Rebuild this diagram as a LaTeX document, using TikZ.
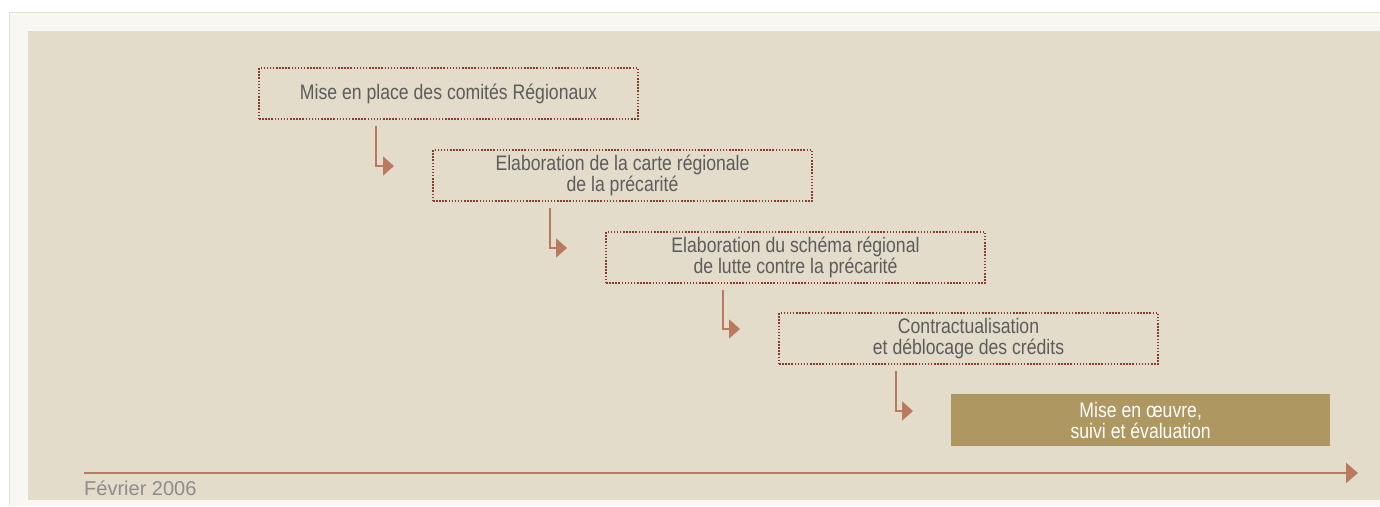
\documentclass[tikz,border=0pt]{standalone}
\usepackage{fontspec}
\setmainfont{Liberation Sans}
\newfontfamily\boxfont[FakeStretch=0.84]{Liberation Sans}
\usetikzlibrary{arrows.meta}
\definecolor{paper}{HTML}{F8F7F3}
\definecolor{paperline}{HTML}{E7E2D6}
\definecolor{beige}{HTML}{E3DCCB}
\definecolor{dotred}{HTML}{8E3B2C}
\definecolor{arrowbrown}{HTML}{B97A5E}
\definecolor{gold}{HTML}{AE9760}
\definecolor{textgray}{HTML}{5C5C5C}
\definecolor{dategray}{HTML}{8C8C8C}
\tikzset{
  stepbox/.style={draw=dotred, line width=2pt, dash pattern=on 1.5pt off 1.6pt,
    minimum width=379pt, minimum height=51pt, anchor=north west, align=center,
    inner sep=0pt, text=textgray, font=\boxfont\fontsize{21}{21}\selectfont},
  lastbox/.style={fill=gold, minimum width=379pt, minimum height=52pt, anchor=north west,
    align=center, inner sep=0pt, text=white, font=\boxfont\fontsize{21}{21}\selectfont},
  steparrow/.style={draw=arrowbrown, line width=1.8pt, -{Triangle[length=11pt,width=19pt]}},
  timeline/.style={draw=arrowbrown, line width=2pt, -{Triangle[length=12pt,width=20pt]}}
}
\begin{document}
\begin{tikzpicture}[x=1pt,y=-1pt]
\useasboundingbox (0,0) rectangle (1380,506);
%Background
\fill[white] (0,0) rectangle (1380,506);
\fill[paper] (9,12) rectangle (1380,506);
\draw[paperline, line width=1pt] (9,506) -- (9,12) -- (1380,12);
\fill[beige] (28,31) rectangle (1380,500);
%Steps
\node[stepbox] (b1) at (258,67) {Mise en place des comités Régionaux};
\node[stepbox] (b2) at (432,149) {Elaboration de la carte régionale\\de la précarité};
\node[stepbox] (b3) at (605,231) {Elaboration du schéma régional\\de lutte contre la précarité};
\node[stepbox] (b4) at (778,312) {Contractualisation\\et déblocage des crédits};
\node[lastbox] (b5) at (951,394) {Mise en œuvre,\\suivi et évaluation};
%Arrows
\foreach \a/\b in {b1/b2,b2/b3,b3/b4,b4/b5}
  \draw[steparrow] ([xshift=118pt,yshift=-6pt]\a.south west) |- ([xshift=-38pt,yshift=-17pt]\b.north west);
%Time line
\coordinate (t0) at (84,473);
\coordinate (t1) at (1358,473);
\draw[timeline] (t0) -- (t1);
\node[anchor=base west, inner sep=0pt, text=dategray, font=\fontsize{20}{20}\selectfont] (date) at (84,495) {Février 2006};
\end{tikzpicture}
\end{document}
